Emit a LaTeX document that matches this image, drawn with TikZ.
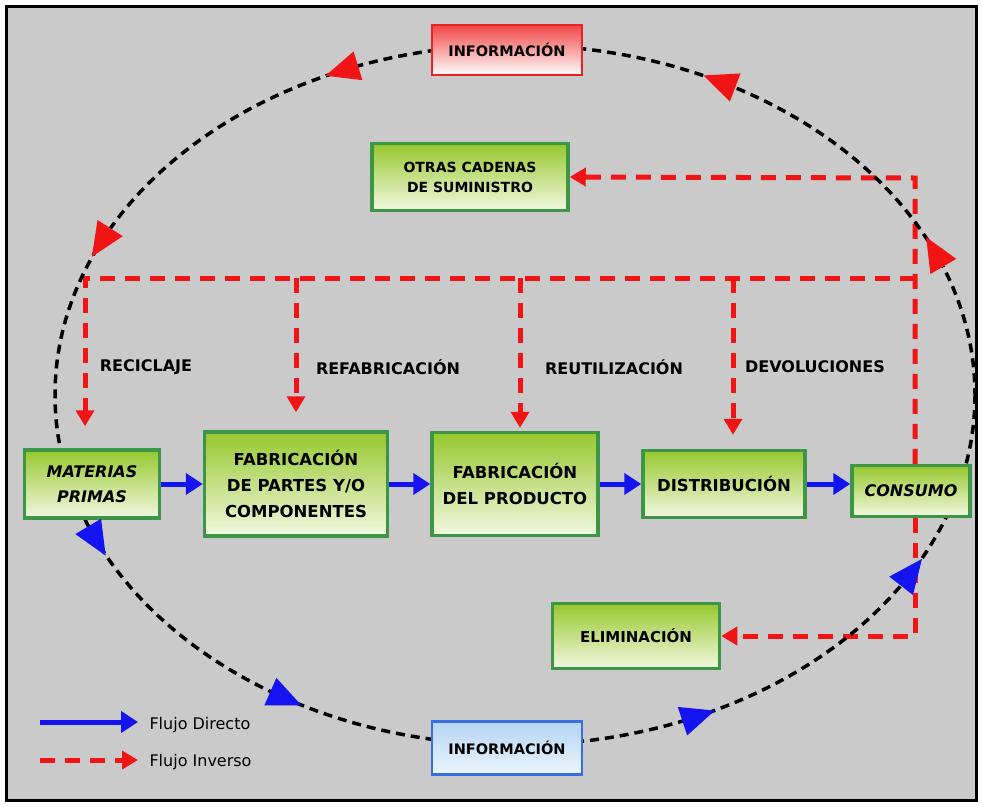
\documentclass[tikz,border=0pt]{standalone}
\usepackage{fontspec}
\setmainfont{DejaVu Sans}
\usetikzlibrary{arrows.meta}

\definecolor{bggray}{RGB}{202,202,202}
\definecolor{boxgreen}{RGB}{60,150,70}
\definecolor{greentop}{RGB}{150,200,45}
\definecolor{greenbot}{RGB}{242,248,225}
\definecolor{infored}{RGB}{230,35,35}
\definecolor{infotopred}{RGB}{240,70,70}
\definecolor{infoblue}{RGB}{55,110,225}
\definecolor{infotopblue}{RGB}{180,212,245}
\definecolor{infobotblue}{RGB}{236,246,252}
\definecolor{flowblue}{RGB}{20,20,240}
\definecolor{flowred}{RGB}{240,20,20}

\pgfdeclarelayer{frame}
\pgfdeclarelayer{lines}
\pgfdeclarelayer{loop}
\pgfsetlayers{frame,lines,loop,main}

% arrowhead on the information loop, t = angle on the ellipse
\newcommand{\looptip}[2]{%
  \fill[#1, shift={({515+460*cos(#2)},{395+350*sin(#2)})},
    rotate={atan2(350*cos(#2),460*sin(#2))}]
    (18,0) -- (-16,15) -- (-16,-15) -- cycle;}

\tikzset{
  greenbox/.style={draw=boxgreen, line width=3.5pt, top color=greentop,
    bottom color=greenbot, align=center, text=black, inner sep=2pt,
    font=\bfseries\fontsize{16.5}{26}\selectfont},
  infobox/.style={line width=2.5pt, align=center, text=black,
    minimum width=150pt, font=\bfseries\fontsize{14.5}{16}\selectfont},
  direct/.style={draw=flowblue, line width=5pt,
    -{Triangle[length=17pt,width=21pt]}},
  invline/.style={draw=flowred, line width=5pt, dash pattern=on 15pt off 10pt},
  inverse/.style={invline, -{Triangle[length=16pt,width=18pt]}},
  infoloop/.style={draw=black, line width=3.5pt, dash pattern=on 9pt off 6pt},
  flowlabel/.style={font=\bfseries\fontsize{16}{18}\selectfont, text=black},
  legendtext/.style={font=\fontsize{16}{18}\selectfont, text=black, anchor=west},
}

\begin{document}
\begin{tikzpicture}[x=1pt, y=-1pt]
    \useasboundingbox (0,0) rectangle (982,806);
    \begin{pgfonlayer}{frame}
        \fill[white] (0,0) rectangle (982,806);
        \draw[fill=bggray, line width=3pt] (6,6) rectangle (976,800);
    \end{pgfonlayer}

    % Information loop
    \begin{pgfonlayer}{loop}
        \draw[infoloop] (515,395) ellipse [x radius=460, y radius=350];
    \end{pgfonlayer}
    \node[infobox, draw=infored, top color=infotopred, bottom color=white,
        minimum height=50pt] (infotop) at (507,50) {INFORMACIÓN};
    \node[infobox, draw=infoblue, top color=infotopblue, bottom color=infobotblue,
        minimum height=53pt] (infobot) at (507,748) {INFORMACIÓN};

    % Supply chain
    \node[greenbox, minimum width=135pt, minimum height=68pt,
        font=\bfseries\itshape\fontsize{16}{25}\selectfont] (materias) at (92,484) {MATERIAS\\PRIMAS};
    \node[greenbox, minimum width=183pt, minimum height=104pt] (fabpartes) at (296,484) {FABRICACIÓN\\DE PARTES Y/O\\COMPONENTES};
    \node[greenbox, minimum width=166pt, minimum height=103pt] (fabprod) at (515,484) {FABRICACIÓN\\DEL PRODUCTO};
    \node[greenbox, minimum width=162pt, minimum height=67pt] (distrib) at (724,484) {DISTRIBUCIÓN};
    \node[greenbox, minimum width=118pt, minimum height=51pt,
        font=\bfseries\itshape\fontsize{16}{25}\selectfont] (consumo) at (911,491) {CONSUMO};
    \node[greenbox, minimum width=196pt, minimum height=67pt,
        font=\bfseries\fontsize{14}{20}\selectfont] (otras) at (470,177) {OTRAS CADENAS\\DE SUMINISTRO};
    \node[greenbox, minimum width=167pt, minimum height=65pt,
        font=\bfseries\fontsize{15}{17}\selectfont] (elimin) at (636,636) {ELIMINACIÓN};

    \draw[direct] (materias) -- (fabpartes);
    \draw[direct] (fabpartes) -- (fabprod);
    \draw[direct] (fabprod) -- (distrib);
    \draw[direct] (distrib.east) -- (distrib.east -| consumo.west);

    % Reverse flow
    \coordinate (topright) at (915,178);
    \coordinate (midright) at (915,278);
    \coordinate (botright) at (915,636);
    \coordinate (dropa) at (85,278);
    \coordinate (dropb) at (296,278);
    \coordinate (dropc) at (520,278);
    \coordinate (dropd) at (733,278);
    \begin{pgfonlayer}{lines}
        \draw[inverse] (consumo.north -| topright) -- (topright) -- (otras.east);
        \draw[inverse, shorten >=22pt] (midright) -- (dropa) -- (dropa |- materias.north);
        \draw[inverse, shorten >=18pt] (dropb) -- (dropb |- fabpartes.north);
        \draw[inverse, shorten >=3pt] (dropc) -- (dropc |- fabprod.north);
        \draw[inverse, shorten >=14pt] (dropd) -- (dropd |- distrib.north);
        \draw[inverse] (consumo.south -| botright) -- (botright) -- (elimin.east);
    \end{pgfonlayer}
    \node[flowlabel] (reciclaje) at (146,367) {RECICLAJE};
    \node[flowlabel] (refab) at (388,367) {REFABRICACIÓN};
    \node[flowlabel] (reutil) at (614,367) {REUTILIZACIÓN};
    \node[flowlabel] (devol) at (815,367) {DEVOLUCIONES};

    % Loop arrowheads
    \looptip{flowred}{296.5}
    \looptip{flowred}{248}
    \looptip{flowred}{206}
    \looptip{flowred}{336}
    \looptip{flowblue}{155.5}
    \looptip{flowblue}{120}
    \looptip{flowblue}{66.6}
    \looptip{flowblue}{30.6}

    % Legend
    \coordinate (ldirstart) at (40,722);
    \coordinate (linvstart) at (40,760);
    \node[legendtext] (ldir) at (146,725) {Flujo Directo};
    \node[legendtext] (linv) at (146,762) {Flujo Inverso};
    \draw[direct, shorten >=8pt] (ldirstart) -- (ldirstart -| ldir.west);
    \draw[inverse, shorten >=8pt] (linvstart) -- (linvstart -| linv.west);
\end{tikzpicture}
\end{document}
